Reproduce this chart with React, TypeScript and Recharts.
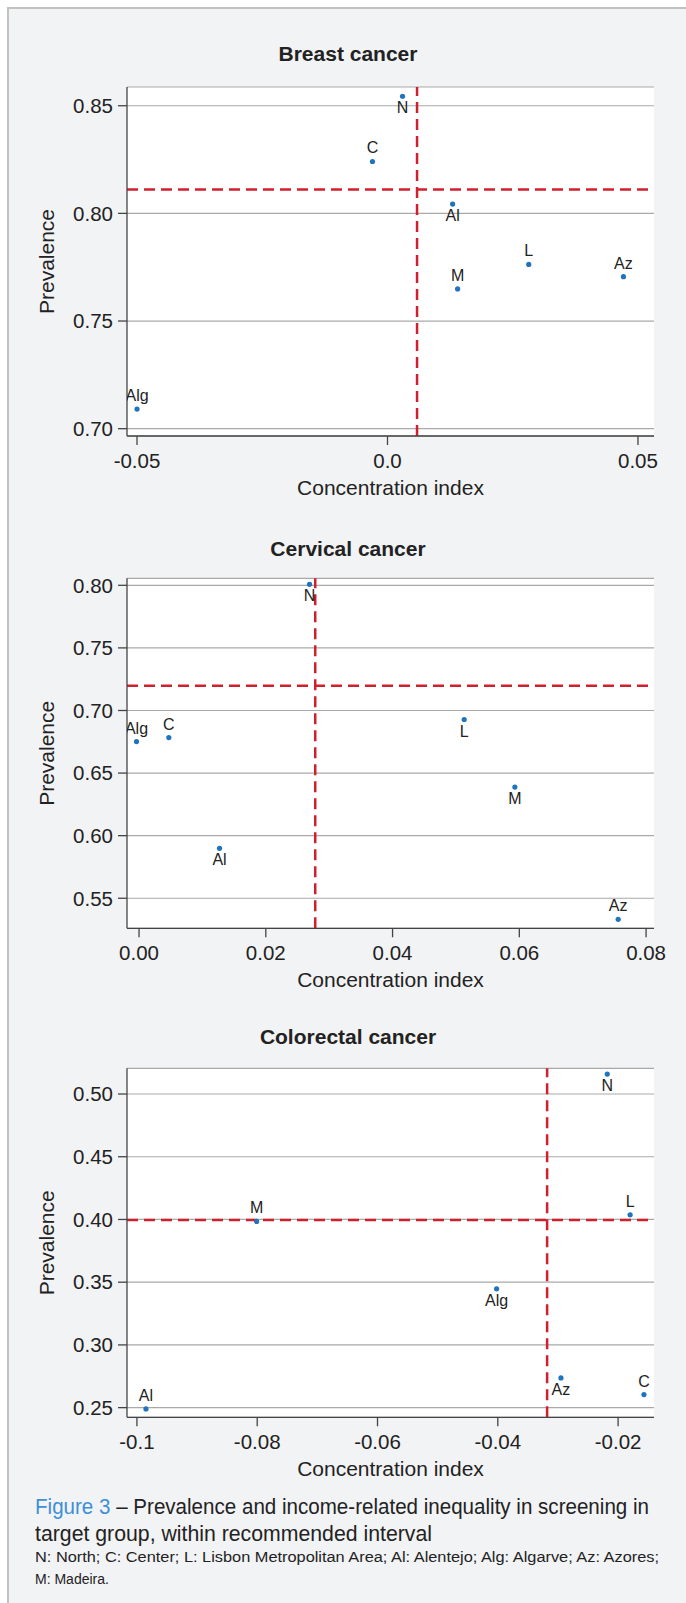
import React from 'react';
import { ScatterChart, Scatter, XAxis, YAxis, CartesianGrid, ReferenceLine } from 'recharts';

const FONT = '"Liberation Sans", Arial, Helvetica, sans-serif';

// ---- Breast cancer ----
const breastNames = ['N', 'C', 'Al', 'M', 'L', 'Az', 'Alg'];
const breastX = [0.003, -0.003, 0.013, 0.014, 0.0282, 0.0471, -0.05];
const breastY = [0.8544, 0.8241, 0.8043, 0.7649, 0.7763, 0.7706, 0.7091];
const breastPos = ['bottom', 'top', 'bottom', 'top', 'top', 'top', 'top'];
const breastXTicks = [-0.05, 0, 0.05];
const breastXTickLabels = ['-0.05', '0.0', '0.05'];
const breastYTicks = [0.7, 0.75, 0.8, 0.85];
const breastRef = { x: 0.0059, y: 0.8111 };

// ---- Cervical cancer ----
const cervicalNames = ['N', 'Alg', 'C', 'Al', 'L', 'M', 'Az'];
const cervicalX = [0.0269, -0.0004, 0.0047, 0.0127, 0.0513, 0.0593, 0.0756];
const cervicalY = [0.8008, 0.6752, 0.6784, 0.5899, 0.6928, 0.6388, 0.5332];
const cervicalPos = ['bottom', 'top', 'top', 'bottom', 'bottom', 'bottom', 'top'];
const cervicalXTicks = [0, 0.02, 0.04, 0.06, 0.08];
const cervicalXTickLabels = ['0.00', '0.02', '0.04', '0.06', '0.08'];
const cervicalYTicks = [0.55, 0.6, 0.65, 0.7, 0.75, 0.8];
const cervicalRef = { x: 0.0278, y: 0.7197 };

// ---- Colorectal cancer ----
const colorectalNames = ['N', 'M', 'L', 'Alg', 'Az', 'C', 'Al'];
const colorectalX = [-0.0218, -0.0801, -0.018, -0.0402, -0.0295, -0.0157, -0.0985];
const colorectalY = [0.5159, 0.3984, 0.4037, 0.3447, 0.2737, 0.2604, 0.249];
const colorectalPos = ['bottom', 'top', 'top', 'bottom', 'bottom', 'top', 'top'];
const colorectalXTicks = [-0.1, -0.08, -0.06, -0.04, -0.02];
const colorectalXTickLabels = ['-0.1', '-0.08', '-0.06', '-0.04', '-0.02'];
const colorectalYTicks = [0.25, 0.3, 0.35, 0.4, 0.45, 0.5];
const colorectalRef = { x: -0.0318, y: 0.3995 };

const build = (names: string[], xs: number[], ys: number[], pos: string[]) =>
  names.map((name, i) => ({ name, x: xs[i], y: ys[i], pos: pos[i] }));

const renderPoint = (props: any) => {
  const { cx, cy, payload } = props;
  if (cx == null || cy == null) return <g />;
  const above = payload.pos === 'top';
  return (
    <g>
      <circle cx={cx} cy={cy} r={2.6} fill="#1f74bd" />
      <text
        x={cx}
        y={above ? cy - 8 : cy + 17}
        textAnchor="middle"
        fontSize={16}
        fontFamily={FONT}
        fill="#222"
      >
        {payload.name}
      </text>
    </g>
  );
};

type PanelProps = {
  top: number;
  plotTop: number;
  plotBottom: number;
  data: any[];
  xDomain: [number, number];
  yDomain: [number, number];
  xTicks: number[];
  xTickLabels: string[];
  yTicks: number[];
  refLine: { x: number; y: number };
};

const AXIS_H = 70;

const Panel = ({ top, plotTop, plotBottom, data, xDomain, yDomain, xTicks, xTickLabels, yTicks, refLine }: PanelProps) => {
  const height = plotBottom + AXIS_H - top;
  return (
    <div style={{ position: 'absolute', left: 0, top, width: 686, height }}>
      <ScatterChart
        width={686}
        height={height}
        margin={{ top: plotTop - top, right: 32, left: 0, bottom: 0 }}
      >
        <CartesianGrid vertical={false} fill="#ffffff" stroke="#a9a9a9" strokeWidth={1.2} />
        <XAxis
          type="number"
          dataKey="x"
          domain={xDomain}
          ticks={xTicks}
          allowDataOverflow
          height={AXIS_H}
          tickSize={9}
          tickMargin={8}
          stroke="#444"
          strokeWidth={1.3}
          tick={{ fill: '#222', fontSize: 20.5, fontFamily: FONT }}
          tickFormatter={(v: number) => {
            const i = xTicks.findIndex((t) => Math.abs(t - v) < 1e-9);
            return i >= 0 ? xTickLabels[i] : String(v);
          }}
          label={{
            content: (p: any) => {
              const vb = p.viewBox || {};
              const cx = (vb.x ?? 127) + (vb.width ?? 527) / 2;
              const y = (vb.y ?? 0) + 58.5;
              return (
                <text x={cx} y={y} textAnchor="middle" fontSize={21} fontFamily={FONT} fill="#222">
                  Concentration index
                </text>
              );
            },
          }}
        />
        <YAxis
          type="number"
          dataKey="y"
          domain={yDomain}
          ticks={yTicks}
          allowDataOverflow
          width={127}
          tickSize={9}
          tickMargin={5}
          stroke="#444"
          strokeWidth={1.3}
          tick={{ fill: '#222', fontSize: 20.5, fontFamily: FONT }}
          tickFormatter={(v: number) => v.toFixed(2)}
          label={{
            content: (p: any) => {
              const vb = p.viewBox || {};
              const cy = (vb.y ?? 0) + (vb.height ?? 0) / 2;
              return (
                <text
                  x={46}
                  y={cy}
                  transform={`rotate(-90 46 ${cy})`}
                  textAnchor="middle"
                  dominantBaseline="central"
                  fontSize={21}
                  fontFamily={FONT}
                  fill="#222"
                >
                  Prevalence
                </text>
              );
            },
          }}
        />
        <ReferenceLine y={refLine.y} stroke="#d0202e" strokeWidth={2.5} strokeDasharray="11 6" />
        <ReferenceLine x={refLine.x} stroke="#d0202e" strokeWidth={2.5} strokeDasharray="11 6" />
        <Scatter data={data} shape={renderPoint} isAnimationActive={false} />
      </ScatterChart>
    </div>
  );
};

export default function App() {
  return (
    <div style={{ position: 'absolute', left: 0, top: 0, width: 686, height: 1603, overflow: 'hidden', background: '#fff' }}>
      <div
        style={{
          position: 'absolute',
          left: 7,
          top: 7,
          width: 679,
          height: 1596,
          background: '#f2f3f5',
          borderLeft: '2px solid #c2c2c2',
          borderTop: '2px solid #c2c2c2',
          boxSizing: 'border-box',
        }}
      />
      <Panel
        top={0}
        plotTop={87}
        plotBottom={436}
        data={build(breastNames, breastX, breastY, breastPos)}
        xDomain={[-0.052, 0.0532]}
        yDomain={[0.6966, 0.8587]}
        xTicks={breastXTicks}
        xTickLabels={breastXTickLabels}
        yTicks={breastYTicks}
        refLine={breastRef}
      />
      <Panel
        top={520}
        plotTop={578.3}
        plotBottom={928.3}
        data={build(cervicalNames, cervicalX, cervicalY, cervicalPos)}
        xDomain={[-0.0019, 0.08125]}
        yDomain={[0.526, 0.8056]}
        xTicks={cervicalXTicks}
        xTickLabels={cervicalXTickLabels}
        yTicks={cervicalYTicks}
        refLine={cervicalRef}
      />
      <Panel
        top={1000}
        plotTop={1068.3}
        plotBottom={1417.3}
        data={build(colorectalNames, colorectalX, colorectalY, colorectalPos)}
        xDomain={[-0.10165, -0.01403]}
        yDomain={[0.2423, 0.5205]}
        xTicks={colorectalXTicks}
        xTickLabels={colorectalXTickLabels}
        yTicks={colorectalYTicks}
        refLine={colorectalRef}
      />
      <svg
        width={686}
        height={1603}
        style={{ position: 'absolute', left: 0, top: 0, pointerEvents: 'none' }}
      >
        <g fontFamily={FONT} fill="#222">
          <text x={348} y={60.8} textAnchor="middle" fontSize={21} fontWeight="bold">Breast cancer</text>
          <text x={348} y={555.8} textAnchor="middle" fontSize={21} fontWeight="bold">Cervical cancer</text>
          <text x={348} y={1044.2} textAnchor="middle" fontSize={21} fontWeight="bold">Colorectal cancer</text>
          <text x={35} y={1514.3} fontSize={22} textLength={614} lengthAdjust="spacingAndGlyphs">
            <tspan fill="#3d8fd8">Figure 3</tspan>
            <tspan> – Prevalence and income-related inequality in screening in</tspan>
          </text>
          <text x={35} y={1541} fontSize={22} textLength={397} lengthAdjust="spacingAndGlyphs">
            target group, within recommended interval
          </text>
          <text x={35} y={1561.7} fontSize={14} textLength={624} lengthAdjust="spacingAndGlyphs">
            N: North; C: Center; L: Lisbon Metropolitan Area; Al: Alentejo; Alg: Algarve; Az: Azores;
          </text>
          <text x={35} y={1584} fontSize={14}>
            M: Madeira.
          </text>
        </g>
      </svg>
    </div>
  );
}
